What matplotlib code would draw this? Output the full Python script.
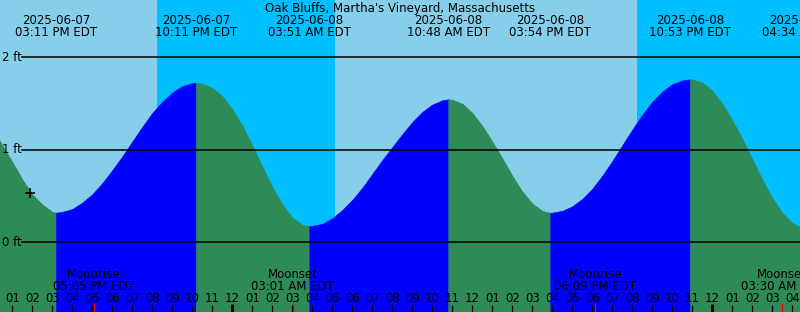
import pandas as pd
import matplotlib
matplotlib.use("Agg")
import matplotlib.pyplot as plt

station = "Oak Bluffs, Martha's Vineyard, Massachusetts"

# water level (ft), every 30 min from 12:00 PM 2025-06-07
curve_start = "2025-06-07 12:00"
curve_ft = [1.23, 1.05, 0.87, 0.68, 0.52, 0.41, 0.33,
            0.33, 0.36, 0.43, 0.52, 0.64, 0.78, 0.93, 1.09, 1.25, 1.40, 1.52, 1.62, 1.69, 1.72,
            1.715, 1.67, 1.58, 1.44, 1.26, 1.05, 0.82, 0.60, 0.41, 0.27, 0.19,
            0.178, 0.20, 0.26, 0.35, 0.46, 0.59, 0.74, 0.89, 1.03, 1.17, 1.30, 1.41, 1.49, 1.535,
            1.542, 1.50, 1.40, 1.26, 1.09, 0.91, 0.72, 0.55, 0.42, 0.34,
            0.321, 0.34, 0.39, 0.47, 0.58, 0.72, 0.88, 1.05, 1.22, 1.38, 1.52, 1.63, 1.71, 1.75,
            1.76, 1.73, 1.64, 1.50, 1.32, 1.12, 0.90, 0.68, 0.48, 0.32, 0.21, 0.155]

# high / low tides
tide_times = ["2025-06-07 15:11", "2025-06-07 22:11", "2025-06-08 03:51", "2025-06-08 10:48",
              "2025-06-08 15:54", "2025-06-08 22:53", "2025-06-09 04:34"]
tide_ft = [0.32, 1.725, 0.176, 1.546, 0.32, 1.762, 0.15]
tide_dates = ["2025-06-07", "2025-06-07", "2025-06-08", "2025-06-08", "2025-06-08", "2025-06-08", "2025-06-09"]
tide_labels = ["03:11 PM EDT", "10:11 PM EDT", "03:51 AM EDT", "10:48 AM EDT",
               "03:54 PM EDT", "10:53 PM EDT", "04:34 AM EDT"]

moon_times = ["2025-06-07 17:05", "2025-06-08 03:01", "2025-06-08 18:09", "2025-06-09 03:30"]
moon_events = ["Moonrise", "Moonset", "Moonrise", "Moonset"]
moon_labels = ["05:05 PM EDT", "03:01 AM EDT", "06:09 PM EDT", "03:30 AM EDT"]

night_spans = [("2025-06-07 20:14", "2025-06-08 05:08"), ("2025-06-08 20:14", "2025-06-09 05:08")]

now_time = "2025-06-07 13:53"
now_ft = 0.536

hour_labels = ["01", "02", "03", "04", "05", "06", "07", "08", "09", "10", "11", "12",
               "01", "02", "03", "04", "05", "06", "07", "08", "09", "10", "11", "12",
               "01", "02", "03", "04", "05", "06", "07", "08", "09", "10", "11", "12",
               "01", "02", "03", "04"]

level_ticks = [0, 1, 2]

DAY = "#87CEEB"
NIGHT = "#00BFFF"
RISING = "#0000FF"
FALLING = "#2E8B57"

t0 = pd.Timestamp(curve_start)


def hours(ts):
    return (pd.Timestamp(ts) - t0) / pd.Timedelta(hours=1)


def px(y):
    # pixel row -> feet
    return (242.3 - y) / 92.5


plt.rcParams['font.family'] = ['DejaVu Sans']
fs = 8.5

fig = plt.figure(figsize=(8, 3.12), dpi=100)
ax = fig.add_axes([0, 0, 1, 1])
ax.set_axis_off()
x0, x1 = 0.385, 40.385
y0, y1 = px(312), px(0)
ax.set_xlim(x0, x1)
ax.set_ylim(y0, y1)

# sky
ax.axvspan(x0, x1, color=DAY, lw=0, zorder=0)
for a, b in night_spans:
    ax.axvspan(hours(a), hours(b), color=NIGHT, lw=0, zorder=0)

# water, split at each high / low
pts = [(i * 0.5, v) for i, v in enumerate(curve_ft)]
ext_h = [hours(t) for t in tide_times]
pts += list(zip(ext_h, tide_ft))
pts.sort()
bounds = [pts[0][0]] + [h for h in ext_h if h < pts[-1][0]] + [pts[-1][0]]
for a, b in zip(bounds[:-1], bounds[1:]):
    seg = [p for p in pts if a <= p[0] <= b]
    ts = [p[0] for p in seg]
    vs = [p[1] for p in seg]
    col = RISING if vs[-1] > vs[0] else FALLING
    ax.fill_between(ts, y0, vs, color=col, lw=0.4, edgecolor=col, zorder=1)

# level lines
for lv in level_ticks:
    ax.axhline(lv, xmin=22 / 800, xmax=1, color="black", lw=1.1, zorder=3)
    ax.text(x0 + 2 / 20, lv, f"{lv} ft", fontsize=fs, ha="left", va="center", zorder=4)

ax.plot([hours(now_time)], [now_ft], marker="+", color="black", ms=7, mew=1.1, zorder=4)

# title and tide labels
ax.text((x0 + x1) / 2, px(12), station, fontsize=fs, ha="center", va="baseline", zorder=4)
for h, d, lab in zip(ext_h, tide_dates, tide_labels):
    ax.text(h, px(24), d, fontsize=fs, ha="center", va="baseline", zorder=4)
    ax.text(h, px(36.5), lab, fontsize=fs, ha="center", va="baseline", zorder=4)

# moon labels
for t, ev, lab in zip(moon_times, moon_events, moon_labels):
    h = hours(t)
    ax.text(h, px(278), ev, fontsize=fs, ha="center", va="baseline", zorder=4)
    ax.text(h, px(290), lab, fontsize=fs, ha="center", va="baseline", zorder=4)
    ax.vlines(h, y0, px(303), color="red", lw=0.9, zorder=5)

# hour ticks
for i, lab in enumerate(hour_labels):
    h = i + 1
    ax.text(h, px(302), lab, fontsize=fs, ha="center", va="baseline", zorder=4)
    thick = lab == "12" and (h % 24 == 12)
    ax.vlines(h, y0, px(304 if thick else 305), color="black",
              lw=2.2 if thick else 0.9, zorder=5)

fig.savefig("out.png", dpi=100)
